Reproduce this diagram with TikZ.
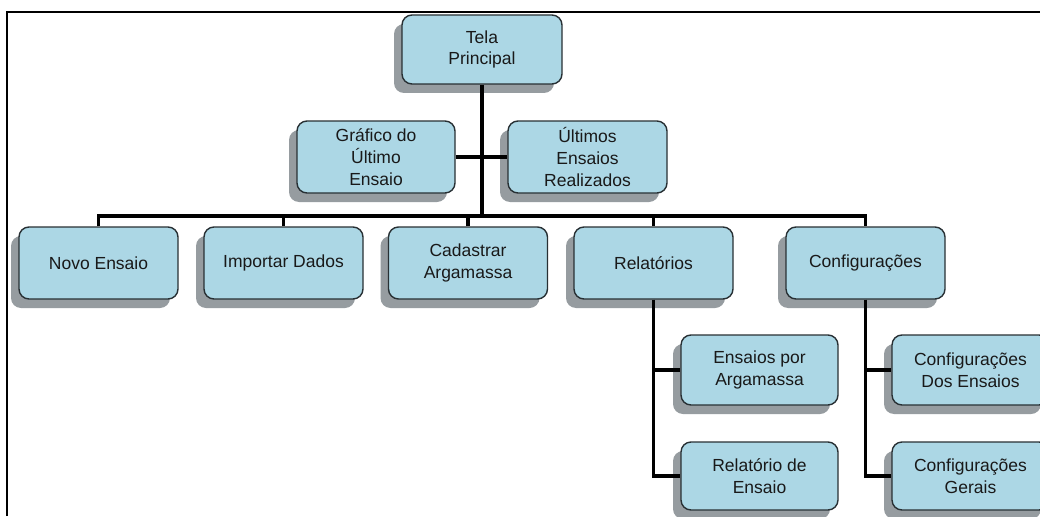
\documentclass[tikz,border=0pt]{standalone}
\usepackage{fontspec}
\setmainfont{Liberation Sans}
\usetikzlibrary{shadows}
\definecolor{boxfill}{RGB}{172,215,229}
\definecolor{boxline}{RGB}{40,48,52}
\definecolor{shade}{RGB}{150,156,160}
\definecolor{ink}{RGB}{25,25,25}
\begin{document}
\begin{tikzpicture}[x=1pt,y=-1pt,
  menubox/.style={draw=boxline, line width=1.4pt, fill=boxfill, rounded corners=10pt,
    minimum width=159pt, minimum height=72pt, inner sep=0pt, align=center, text=ink,
    font=\fontsize{17.5}{21.7}\selectfont,
    drop shadow={shadow xshift=-8pt, shadow yshift=-9pt, fill=shade, opacity=1}},
  link/.style={line width=3.5pt, draw=black},
  frame/.style={line width=2.5pt, draw=black}]
\useasboundingbox (0,0) rectangle (1040,516);
\clip (0,0) rectangle (1040,516);
\fill[white] (0,0) rectangle (1040,516);
% outer frame (top and left edges)
\draw[frame] (7,516) -- (7,12) -- (1040,12);

% top level
\node[menubox, minimum width=160pt, minimum height=69pt] (tela) at (482,49.5) {Tela\\Principal};
\node[menubox, minimum width=158pt] (graf) at (376,157) {Gráfico do\\Último\\Ensaio};
\node[menubox] (ult) at (587.5,157) {Últimos\\Ensaios\\Realizados};

% main menu row
\node[menubox] (novo) at (98.5,263) {Novo Ensaio};
\node[menubox] (imp)  at (283.5,263) {Importar Dados};
\node[menubox] (cad)  at (468,263) {Cadastrar\\Argamassa};
\node[menubox] (rel)  at (653.5,263) {Relatórios};
\node[menubox] (conf) at (865.5,263) {Configurações};

% sub menus
\node[menubox, minimum width=157pt, minimum height=70pt] (ensarg)  at (759.5,370) {Ensaios por\\Argamassa};
\node[menubox, minimum width=157pt, minimum height=68pt] (relens)  at (759.5,476) {Relatório de\\Ensaio};
\node[menubox, minimum width=157pt, minimum height=70pt] (confens) at (970.5,370) {Configurações\\Dos Ensaios};
\node[menubox, minimum width=157pt, minimum height=68pt] (confger) at (970.5,476) {Configurações\\Gerais};

% connectors
\coordinate (bus) at (482,216);
\draw[link] (tela.south) -- (bus);
\draw[link] (graf.east) -- (ult.west);
\draw[link] (novo.north) -- (novo.north |- bus) -- (conf.north |- bus) -- (conf.north);
\draw[link] (imp.north) -- (imp.north |- bus);
\draw[link] (cad.north) -- (cad.north |- bus);
\draw[link] (rel.north) -- (rel.north |- bus);

\draw[link] (rel.south) |- (relens.west);
\draw[link] (rel.south |- ensarg.west) -- (ensarg.west);
\draw[link] (conf.south) |- (confger.west);
\draw[link] (conf.south |- confens.west) -- (confens.west);
\end{tikzpicture}
\end{document}
